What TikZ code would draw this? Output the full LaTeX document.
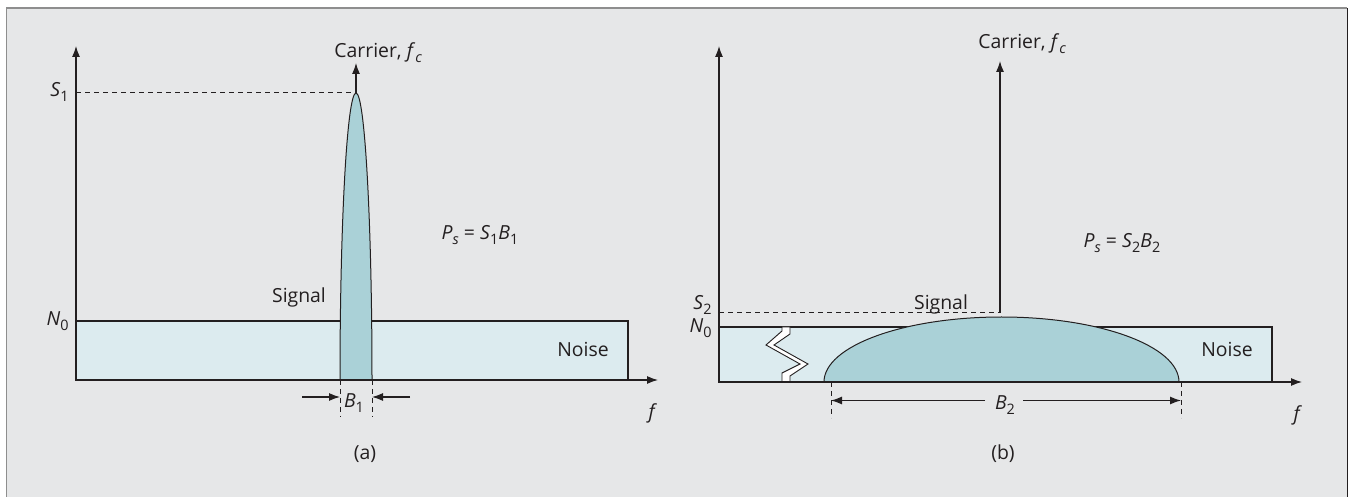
\documentclass[tikz,border=0pt]{standalone}
\usepackage{fontspec}
\setmainfont{Open Sans}
\usepackage{xcolor}
\usepackage{tikz}
\usetikzlibrary{positioning,arrows.meta}
\definecolor{panelbg}{HTML}{E6E7E8}
\definecolor{framegray}{HTML}{8E8E8E}
\definecolor{ink}{HTML}{231F20}
\definecolor{noisefill}{HTML}{DCEBEF}
\definecolor{sigfill}{HTML}{AAD1D7}
\newcommand{\lo}[1]{\raisebox{-0.45ex}{\fontsize{7.2pt}{8pt}\selectfont #1}}
\tikzset{
    axis/.style={draw=ink, line width=0.6pt, -{Latex[length=5.5pt,width=4pt]}},
    noiseband/.style={draw=ink, line width=0.75pt, fill=noisefill},
    sigshape/.style={draw=ink, line width=0.5pt, fill=sigfill},
    guide/.style={draw=ink, line width=0.5pt, dash pattern=on 2.5pt off 2pt},
    dimarrow/.style={draw=ink, line width=0.6pt, -{Latex[length=5.5pt,width=4pt]}},
    lbl/.style={font=\fontsize{9.7pt}{11pt}\selectfont, text=ink, inner sep=0pt},
    breakmark/.style={draw=ink, line width=0.45pt, fill=white}
}

\begin{document}
\begin{tikzpicture}[x=0.5pt, y=-0.5pt]

% Panel background
\useasboundingbox (0,0) rectangle (1351,497);
\fill[panelbg] (6,8) rectangle (1348,497);
\draw[framegray, line width=0.8pt] (6.5,497) -- (6.5,8) -- (1347,8);
\draw[ink, line width=0.7pt] (1347.5,8) -- (1347.5,497);

% (a) narrowband
\coordinate (oa) at (76,380);
\coordinate (ya) at (76,46);
\coordinate (xa) at (658,380);
\coordinate (s1a) at (76,93);
\coordinate (pka) at (356,93);
\coordinate (tipa) at (356,63);
\coordinate (b1l) at (340,380);
\coordinate (b1r) at (372,380);
\coordinate (b1lo) at (340,417);
\coordinate (b1ro) at (372,417);
\coordinate (b1lin) at (302,397);
\coordinate (b1rin) at (410,397);
\coordinate (b1lend) at (340,397);
\coordinate (b1rend) at (372,397);

\path[noiseband] (76,321) rectangle (628,380);
\path[sigshape] (b1l) arc[start angle=180, end angle=360, x radius=16, y radius=287] -- cycle;
\draw[axis] (oa) -- (ya);
\draw[axis] (oa) -- (xa);
\draw[guide] (s1a) -- (pka);
\draw[axis] (pka) -- (tipa);
\draw[guide] (b1l) -- (b1lo);
\draw[guide] (b1r) -- (b1ro);
\draw[dimarrow] (b1lin) -- (b1lend);
\draw[dimarrow] (b1rin) -- (b1rend);

\node[lbl, anchor=base west] (carra) at (334,58) {Carrier, \textit{f}\lo{\textit{c}}};
\node[lbl, anchor=base east] (sa) at (69,97) {\textit{S}\lo{1}};
\node[lbl, anchor=base east] (na) at (69,326) {\textit{N}\lo{0}};
\node[lbl, anchor=base] (siga) at (299,303) {Signal};
\node[lbl, anchor=base] (noisea) at (583,357) {Noise};
\node[lbl, anchor=base] (psa) at (480,240) {\textit{P}\lo{\textit{s}} = \textit{S}\lo{1}\textit{B}\lo{1}};
\node[lbl, anchor=base] (bwa) at (354,408) {\textit{B}\lo{1}};
\node[lbl, anchor=base] (fa) at (653,419) {\textit{f}};
\node[lbl, anchor=base] (capa) at (365,459) {(a)};

% (b) spread spectrum
\coordinate (ob) at (719,382);
\coordinate (yb) at (719,46);
\coordinate (xb) at (1302,382);
\coordinate (s2b) at (719,313);
\coordinate (pkb) at (1000,313);
\coordinate (tipb) at (1000,61);
\coordinate (humpl) at (824,382);
\coordinate (b2l) at (831,382);
\coordinate (b2r) at (1181,382);
\coordinate (b2lo) at (831,418);
\coordinate (b2ro) at (1181,418);
\coordinate (b2lin) at (985,400.5);
\coordinate (b2rin) at (1023,400.5);
\coordinate (b2lend) at (831,400.5);
\coordinate (b2rend) at (1181,400.5);

\path[noiseband] (719,327) rectangle (1272,382);
\path[breakmark] (782,327) -- (782,331) -- (766,345) -- (800,364) -- (782,373) -- (782,382)
    -- (790,382) -- (790,376) -- (808,364) -- (774,345) -- (790,334) -- (790,327) -- cycle;
\path[sigshape] (humpl) arc[start angle=180, end angle=360, x radius=177.5, y radius=65] -- cycle;
\draw[axis] (ob) -- (yb);
\draw[axis] (ob) -- (xb);
\draw[guide] (s2b) -- (pkb);
\draw[axis] (pkb) -- (tipb);
\draw[guide] (b2l) -- (b2lo);
\draw[guide] (b2r) -- (b2ro);
\draw[dimarrow] (b2lin) -- (b2lend);
\draw[dimarrow] (b2rin) -- (b2rend);

\node[lbl, anchor=base west] (carrb) at (978,49) {Carrier, \textit{f}\lo{\textit{c}}};
\node[lbl, anchor=base east] (sb) at (712,310) {\textit{S}\lo{2}};
\node[lbl, anchor=base east] (nb) at (712,333) {\textit{N}\lo{0}};
\node[lbl, anchor=base] (sigb) at (941,310) {Signal};
\node[lbl, anchor=base] (noiseb) at (1227,357) {Noise};
\node[lbl, anchor=base] (psb) at (1122,248) {\textit{P}\lo{\textit{s}} = \textit{S}\lo{2}\textit{B}\lo{2}};
\node[lbl, anchor=base] (bwb) at (1005,410) {\textit{B}\lo{2}};
\node[lbl, anchor=base] (fb) at (1298,421) {\textit{f}};
\node[lbl, anchor=base] (capb) at (1003,459) {(b)};

\end{tikzpicture}
\end{document}
